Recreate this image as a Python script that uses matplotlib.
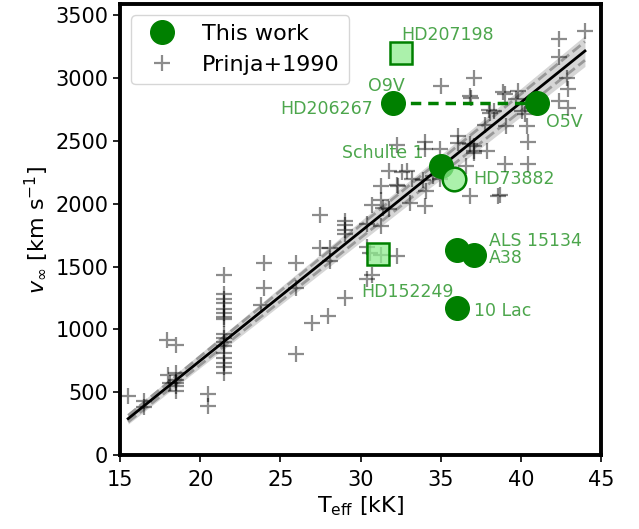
import matplotlib
matplotlib.use("Agg")
import matplotlib.pyplot as plt
import numpy as np

# ── Prinja+1990 sample (Teff in kK, v_inf in km/s) ──
prinja_teff = [
    15.5, 16.5, 16.5, 17.9, 18.5, 18.0, 18.5, 18.1, 18.5, 18.5, 18.5, 18.5,
    20.5, 20.5,
    21.5, 21.5, 21.5, 21.5, 21.5, 21.5, 21.5, 21.5, 21.5, 21.5, 21.5, 21.5,
    21.5, 21.5, 21.5, 21.5, 21.5,
    24.0, 24.0, 23.8, 26.0, 26.0, 26.0, 27.0, 28.0, 27.5, 27.5, 28.1, 28.1,
    29.0, 29.0, 29.0, 29.0, 29.0, 30.4, 30.7, 30.4, 30.6, 31.3, 32.25, 30.7,
    30.4, 31.3, 31.3, 31.3, 31.8, 32.25, 32.25, 32.6, 31.8,
    34.0, 34.0, 34.95, 36.1, 36.1, 37.1, 37.1, 37.1, 37.9, 39.1, 40.4, 40.46,
    39.0, 40.46, 36.8, 38.6, 32.9, 33.2, 32.35, 33.9, 34.1, 34.0, 33.1, 31.4,
    34.95, 34.5, 36.6, 36.8,
    36.8, 39.0, 38.0, 38.1, 35.0, 37.1, 36.9, 38.9, 39.85, 39.7, 38.3, 40.1,
    40.25, 37.75, 44.0, 42.4, 42.4, 42.9, 42.95, 42.4, 42.95, 38.7,
]
prinja_vinf = [
    470, 430, 385, 917, 872, 640, 650, 575, 600, 570, 545, 510,
    487, 393,
    1430, 1280, 1240, 1210, 1160, 1130, 1100, 1080, 960, 930, 900, 870,
    810, 770, 730, 700, 650,
    1530, 1330, 1190, 1530, 1330, 800, 1050, 1110, 1910, 1645, 1650, 1540,
    1860, 1830, 1790, 1760, 1250, 1840, 1990, 1655, 1610, 1595, 1585, 1436,
    1400, 1825, 2140, 2030, 2260, 2150, 2465, 2250, 1955,
    2490, 2433, 2433, 2539, 2486, 2459, 2419, 2406, 2419, 2619, 2619, 2490,
    2313, 2313, 2058, 2058, 2260, 2193, 2140, 2185, 2100, 1980, 2007, 1968,
    2193, 2220, 2300, 2473,
    2858, 2871, 2745, 2725, 2937, 3004, 2845, 2890, 2898, 2831, 2738, 2738,
    2712, 2624, 3375, 3310, 3164, 3004, 2916, 2818, 2760, 2073,
]

# ── This work ──
names = ["HD206267", "O5V", "Schulte 1", "HD73882", "ALS 15134", "A38",
         "10 Lac", "HD207198", "HD152249"]
teff = [32.0, 41.0, 35.0, 35.8, 36.0, 37.1, 36.0, 32.5, 31.1]
vinf = [2800, 2800, 2300, 2200, 1630, 1590, 1170, 3200, 1600]
kind = ["full", "full", "full", "open", "full", "full", "full", "square", "square"]

# label anchor (x, y, ha)
label_pos = {
    "HD207198": (32.55, 3340, "left"),
    "O9V": (31.63, 2940, "center"),
    "HD206267": (30.77, 2755, "right"),
    "O5V": (41.54, 2650, "left"),
    "Schulte 1": (33.95, 2400, "right"),
    "HD73882": (37.03, 2200, "left"),
    "ALS 15134": (38.02, 1700, "left"),
    "A38": (38.02, 1568, "left"),
    "HD152249": (30.02, 1300, "left"),
    "10 Lac": (37.07, 1148, "left"),
}

# linear fit to the Prinja sample, slope uncertainty sets the band
fit_slope = 102.7
fit_intercept = -1303.0
fit_slope_err = 2.8
fit_range = (15.5, 44.0)
dash_frac = 0.6

plt.rcParams["font.family"] = "DejaVu Sans"

fig = plt.figure(figsize=(6.39, 5.29), dpi=100)
ax = fig.add_axes([0.188, 0.140, 0.7525, 0.8525])

tt = np.linspace(*fit_range, 200)
vv = fit_slope * tt + fit_intercept
hw = fit_slope_err * tt
ax.fill_between(tt, vv - hw, vv + hw, color="0.6", alpha=0.4, lw=0, zorder=1)
ax.plot(tt, vv + dash_frac * hw, "--", color="0.6", lw=2, zorder=2)
ax.plot(tt, vv - dash_frac * hw, "--", color="0.6", lw=2, zorder=2)
ax.plot(tt, vv, color="k", lw=2, zorder=3)

ax.plot(prinja_teff, prinja_vinf, "+", color="k", alpha=0.45, ms=11, mew=1.6,
        ls="none", zorder=4, label="Prinja+1990")

# dashed connector HD206267 -> O5V
ax.plot([teff[0], teff[1]], [vinf[0], vinf[1]], "--", color="green", lw=2.5,
        dashes=(3, 2), zorder=5)

light = (0.56, 0.93, 0.56, 0.75)
first = True
for t, v, k in zip(teff, vinf, kind):
    if k == "full":
        ax.plot(t, v, "o", color="green", ms=17, zorder=6,
                label="This work" if first else None)
        first = False
    elif k == "open":
        ax.plot(t, v, "o", mfc=light, mec="green", mew=1.8, ms=17, zorder=6)
    else:
        ax.plot(t, v, "s", mfc=light, mec="green", mew=1.8, ms=16, zorder=6)

for lab, (x, y, ha) in label_pos.items():
    ax.text(x, y, lab, color="green", alpha=0.7, fontsize=12.5, ha=ha,
            va="center", zorder=7)

ax.set_xlim(15, 45)
ax.set_ylim(0, 3590)
ax.set_xticks(np.arange(15, 46, 5))
ax.set_yticks(np.arange(0, 3501, 500))
ax.tick_params(labelsize=15, width=1.2, length=5)
ax.tick_params(axis="x", pad=6)
for s in ax.spines.values():
    s.set_linewidth(2.8)
ax.set_xlabel(r"T$_{\rm eff}$ [kK]", fontsize=16, labelpad=3)
ax.set_ylabel(r"$v_\infty$ [km s$^{-1}$]", fontsize=16)

h, l = ax.get_legend_handles_labels()
order = [l.index("This work"), l.index("Prinja+1990")]
ax.legend([h[i] for i in order], [l[i] for i in order], loc="upper left",
          fontsize=16, handletextpad=0.8, borderaxespad=0.5)

fig.savefig("out.png", dpi=100)
